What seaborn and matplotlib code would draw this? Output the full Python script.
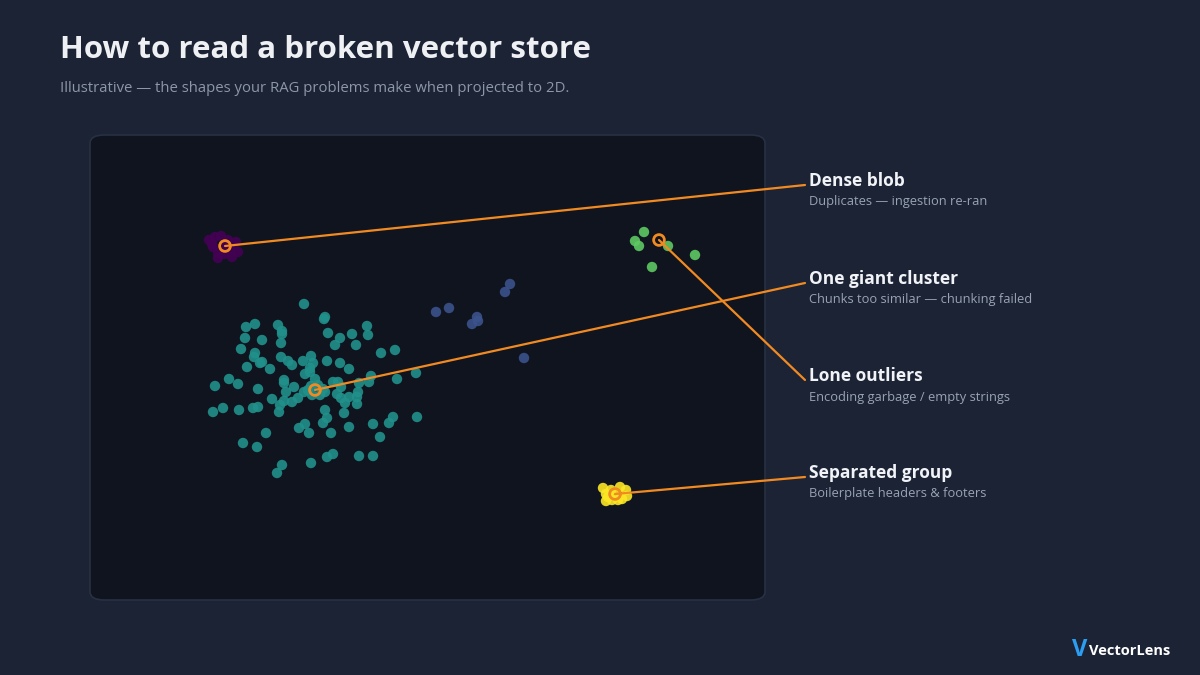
import matplotlib
matplotlib.use("Agg")
import matplotlib.pyplot as plt
import seaborn as sns
import pandas as pd
from matplotlib.patches import FancyBboxPatch

# ---------------- data (projected 2D coordinates, panel pixel space) ----------------
blob_x = [209, 215, 221, 213, 218, 224, 230, 236, 238, 232, 218, 212, 228, 225]
blob_y = [240, 237, 236, 247, 253, 254, 248, 242, 252, 257, 258, 244, 240, 246]

outlier_x = [644, 635, 639, 668, 695, 652]
outlier_y = [232, 241, 246, 246, 255, 267]

drift_x = [436, 449, 477, 478, 472, 505, 510, 524]
drift_y = [312, 308, 317, 321, 324, 292, 284, 358]

group_x = [603, 606, 611, 620, 626, 627, 622, 612, 606, 618, 608, 615]
group_y = [488, 494, 490, 487, 490, 496, 499, 500, 501, 500, 497, 493]

cluster_x = [304, 325, 324, 246, 255, 278, 282, 282, 367, 368, 245, 262, 281, 328, 340,
             352, 335, 356, 241, 255, 254, 281, 260, 262, 288, 292, 303, 311, 313, 310,
             327, 340, 349, 381, 395, 247, 270, 229, 238, 215, 258, 284, 284, 294, 286,
             305, 310, 315, 304, 311, 318, 323, 320, 312, 325, 308, 333, 338, 341, 359,
             369, 371, 397, 416, 337, 341, 349, 357, 358, 357, 345, 272, 284, 292, 298,
             280, 279, 253, 258, 239, 223, 213, 325, 344, 327, 323, 305, 299, 309, 331,
             349, 373, 389, 393, 417, 380, 266, 243, 257, 333, 327, 359, 373, 311, 282, 277]
cluster_y = [304, 317, 319, 327, 324, 325, 331, 334, 326, 335, 338, 340, 343, 333, 338,
             334, 345, 345, 349, 353, 357, 357, 363, 362, 361, 365, 361, 356, 363, 368,
             361, 363, 369, 353, 350, 367, 369, 379, 384, 386, 389, 380, 383, 387, 392,
             374, 372, 379, 392, 386, 385, 389, 395, 395, 392, 390, 382, 382, 387, 383,
             382, 376, 379, 373, 394, 398, 397, 397, 392, 404, 403, 399, 401, 402, 398,
             405, 412, 408, 407, 410, 408, 412, 410, 413, 418, 423, 424, 428, 433, 433,
             427, 424, 423, 417, 417, 437, 433, 443, 447, 454, 457, 456, 456, 463, 465, 473]

group_names = ["Dense blob", "Drift", "One giant cluster", "Lone outliers", "Separated group"]
group_colors = ["#440154", "#3b528b", "#21918c", "#5ec962", "#fde725"]

labels = ["Dense blob", "One giant cluster", "Lone outliers", "Separated group"]
notes = ["Duplicates — ingestion re-ran",
         "Chunks too similar — chunking failed",
         "Encoding garbage / empty strings",
         "Boilerplate headers & footers"]
anchor_x = [225, 315, 659, 615]
anchor_y = [246, 390, 240, 494]
label_y = [185, 283, 380, 477]

# ---------------- frame ----------------
df = pd.concat([
    pd.DataFrame({"x": blob_x, "y": blob_y, "g": "Dense blob"}),
    pd.DataFrame({"x": drift_x, "y": drift_y, "g": "Drift"}),
    pd.DataFrame({"x": cluster_x, "y": cluster_y, "g": "One giant cluster"}),
    pd.DataFrame({"x": outlier_x, "y": outlier_y, "g": "Lone outliers"}),
    pd.DataFrame({"x": group_x, "y": group_y, "g": "Separated group"}),
], ignore_index=True)

BG = "#1b2335"
PANEL = "#0f141f"
ORANGE = "#f28a22"

sns.set_theme(style="dark")
plt.rcParams["font.family"] = ["Open Sans", "DejaVu Sans"]

W, H = 1200, 675
fig = plt.figure(figsize=(12, 6.75), dpi=100, facecolor=BG)

px0, py0, px1, py1 = 90, 135, 765, 600
panel = FancyBboxPatch((px0 / W, 1 - py1 / H), (px1 - px0) / W, (py1 - py0) / H,
                       boxstyle="round,pad=0,rounding_size=0.012",
                       transform=fig.transFigure, facecolor=PANEL,
                       edgecolor="#283043", linewidth=1.2, zorder=-1)
fig.patches.append(panel)

ax = fig.add_axes([px0 / W, 1 - py1 / H, (px1 - px0) / W, (py1 - py0) / H])
ax.set_zorder(2)
ax.set_facecolor("none")
sns.scatterplot(data=df, x="x", y="y", hue="g", hue_order=group_names,
                palette=group_colors, s=56, alpha=0.9, linewidth=0,
                legend=False, ax=ax, zorder=3)
ax.set_xlim(px0, px1)
ax.set_ylim(py1, py0)
ax.set_axis_off()

text_x = 809
for lab, note, axx, ayy, ly in zip(labels, notes, anchor_x, anchor_y, label_y):
    ax.plot([axx, 805], [ayy, ly], color=ORANGE, lw=1.6, clip_on=False, zorder=4)
    ax.scatter([axx], [ayy], s=60, facecolors="none", edgecolors=ORANGE,
               linewidths=2, zorder=5, clip_on=False)
    ax.text(text_x, ly - 4, lab, color="#f1f3f7", fontsize=12.5, fontweight="bold",
            ha="left", va="center", clip_on=False)
    ax.text(text_x, ly + 17, note, color="#9aa3b3", fontsize=9.3,
            ha="left", va="center", clip_on=False)

fig.text(60 / W, 1 - 50 / H, "How to read a broken vector store", color="#eef0f4",
         fontsize=22.5, fontweight="bold", ha="left", va="center")
fig.text(60 / W, 1 - 89 / H,
         "Illustrative — the shapes your RAG problems make when projected to 2D.",
         color="#8e97a8", fontsize=10.75, ha="left", va="center")

fig.text(1072 / W, 1 - 650 / H, "V", color="#2b9ef2", fontsize=17, fontweight="bold",
         ha="left", va="center")
fig.text(1089 / W, 1 - 651 / H, "VectorLens", color="#ffffff", fontsize=10.5,
         fontweight="bold", ha="left", va="center")

fig.savefig("out.png", dpi=100, facecolor=BG)
